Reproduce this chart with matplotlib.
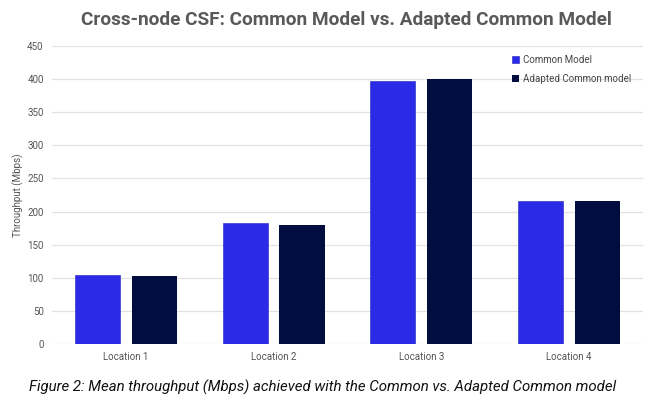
import numpy as np
import matplotlib
matplotlib.use("Agg")
import matplotlib.pyplot as plt

plt.rcParams["font.family"] = ["Roboto", "DejaVu Sans"]

locations = ["Location 1", "Location 2", "Location 3", "Location 4"]
common = [104, 182, 398, 216]
adapted = [103, 180, 400, 216]
series_names = ["Common Model", "Adapted Common model"]

fig = plt.figure(figsize=(6.5, 4.08), dpi=100)
ax = fig.add_axes([0.08, 0.157, 0.909, 0.73])

x = np.arange(len(locations))
w = 0.305
gap = 0.08
ax.bar(x - (w + gap) / 2, common, w, color="#2b2ae6", edgecolor="#2020c0", linewidth=0.4,
       label=series_names[0], zorder=3)
ax.bar(x + (w + gap) / 2, adapted, w, color="#010d3e", label=series_names[1], zorder=3)

ax.set_ylim(0, 450)
ax.set_xlim(-0.5, 3.5)
ax.set_yticks(range(0, 451, 50))
ax.set_xticks(x)
ax.set_xticklabels(locations)
ax.grid(axis="y", color="#e2e2e2", linewidth=0.9, zorder=0)
for s in ax.spines.values():
    s.set_visible(False)
ax.tick_params(length=0, labelsize=7, colors="#555555", pad=6)
ax.set_ylabel("Throughput (Mbps)", fontsize=7, color="#555555", labelpad=2)

leg = ax.legend(loc="upper right", bbox_to_anchor=(0.995, 1.0), fontsize=7, frameon=False,
                handlelength=0.7, handleheight=0.7, handletextpad=0.4, labelspacing=0.9)
for t in leg.get_texts():
    t.set_color("#444444")

fig.text(0.533, 0.952, "Cross-node CSF: Common Model vs. Adapted Common Model", ha="center",
         va="center", fontsize=13.7, fontweight="bold", color="#595959")
fig.text(0.497, 0.05, "Figure 2: Mean throughput (Mbps) achieved with the Common vs. Adapted Common model",
         ha="center", va="center", fontsize=10.8, style="italic", color="#111111")

fig.savefig("out.png", dpi=100)
